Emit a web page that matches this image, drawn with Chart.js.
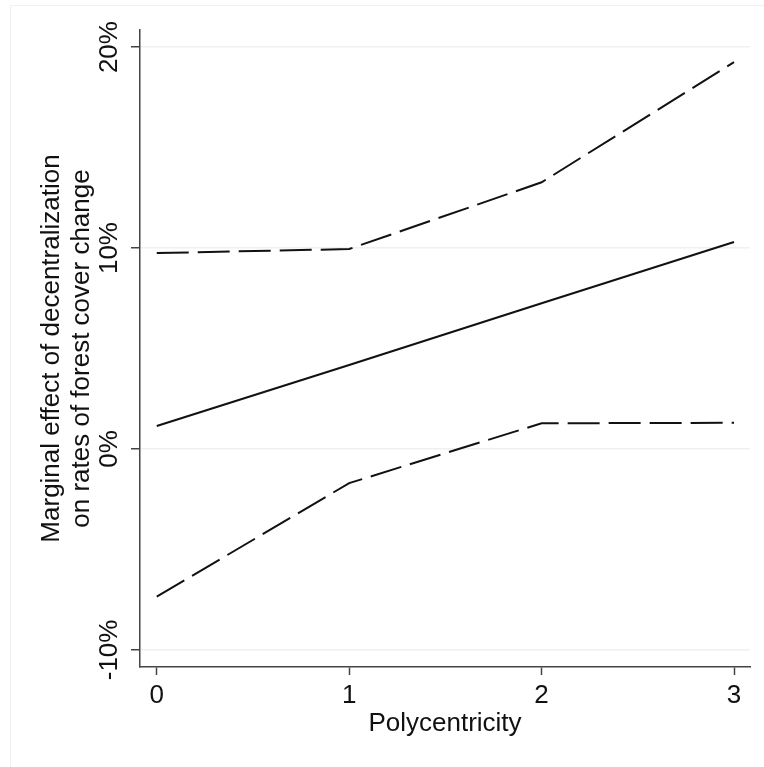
<!DOCTYPE html>
<html>
<head>
<meta charset="utf-8">
<script src="https://cdn.jsdelivr.net/npm/chart.js@4/dist/chart.umd.min.js"></script>
<style>
html,body{margin:0;padding:0;background:#fff;}
#wrap{width:764px;height:767px;position:relative;}
</style>
</head>
<body>
<div id="wrap"><canvas id="c" width="764" height="767"></canvas></div>
<script>
const polycentricity = [0, 1, 2, 3];
const marginalEffect = [1.14, 4.18, 7.25, 10.3];
const upperBound = [9.75, 9.95, 13.27, 19.25];
const lowerBound = [-7.35, -1.7, 1.28, 1.3];
const xTickValues = [0, 1, 2, 3];
const yTickValues = [-10, 0, 10, 20];
const xTitle = 'Polycentricity';
const yTitle = ['Marginal effect of decentralization', 'on rates of forest cover change'];

const pts = (ys) => polycentricity.map((x, i) => ({x: x, y: ys[i]}));
const FONT = 'Liberation Sans, Arial, Helvetica, sans-serif';

const framePlugin = {
  id: 'frame',
  beforeDraw(chart) {
    const ctx = chart.ctx;
    ctx.save();
    ctx.strokeStyle = '#f0f0f0';
    ctx.lineWidth = 1;
    ctx.strokeRect(10.5, 5.5, 800, 800);
    ctx.restore();
  }
};

new Chart(document.getElementById('c'), {
  type: 'line',
  data: {
    datasets: [
      {label: 'Upper', data: pts(upperBound), borderColor: '#111', borderWidth: 2, borderDash: [32, 9], pointRadius: 0, fill: false, tension: 0},
      {label: 'Effect', data: pts(marginalEffect), borderColor: '#111', borderWidth: 2, pointRadius: 0, fill: false, tension: 0},
      {label: 'Lower', data: pts(lowerBound), borderColor: '#111', borderWidth: 2, borderDash: [32, 9], pointRadius: 0, fill: false, tension: 0}
    ]
  },
  options: {
    responsive: false,
    animation: false,
    devicePixelRatio: 1,
    layout: {padding: {top: 30, right: 14, left: 0, bottom: 0}},
    plugins: {legend: {display: false}, tooltip: {enabled: false}},
    scales: {
      x: {
        type: 'linear',
        min: -0.087,
        max: 3.083,
        afterBuildTicks(s) { s.ticks = xTickValues.map(v => ({value: v})); },
        afterFit(s) { s.height = 100; },
        grid: {drawOnChartArea: false, drawTicks: true, tickLength: 8, tickColor: '#444', tickWidth: 1.5},
        border: {display: true, color: '#444', width: 1.5},
        ticks: {color: '#111', font: {family: FONT, size: 26}, padding: 5, maxRotation: 0, callback: v => String(v)},
        title: {display: true, text: xTitle, color: '#111', font: {family: FONT, size: 26}, padding: {top: 0, bottom: 28}}
      },
      y: {
        type: 'linear',
        min: -10.85,
        max: 20.85,
        afterBuildTicks(s) { s.ticks = yTickValues.map(v => ({value: v})); },
        afterFit(s) { s.width = 140; },
        grid: {drawOnChartArea: true, color: '#eef1f1', lineWidth: 1.5, drawTicks: true, tickLength: 9, tickColor: '#444', tickWidth: 1.5},
        border: {display: true, color: '#444', width: 1.5},
        ticks: {color: '#111', font: {family: FONT, size: 26}, padding: -9, minRotation: 90, maxRotation: 90, crossAlign: 'center', callback: v => v + '%'},
        title: {display: true, text: yTitle, color: '#111', font: {family: FONT, size: 26, lineHeight: 1.15}, padding: {top: 37, bottom: 0}}
      }
    }
  },
  plugins: [framePlugin]
});
</script>
</body>
</html>
